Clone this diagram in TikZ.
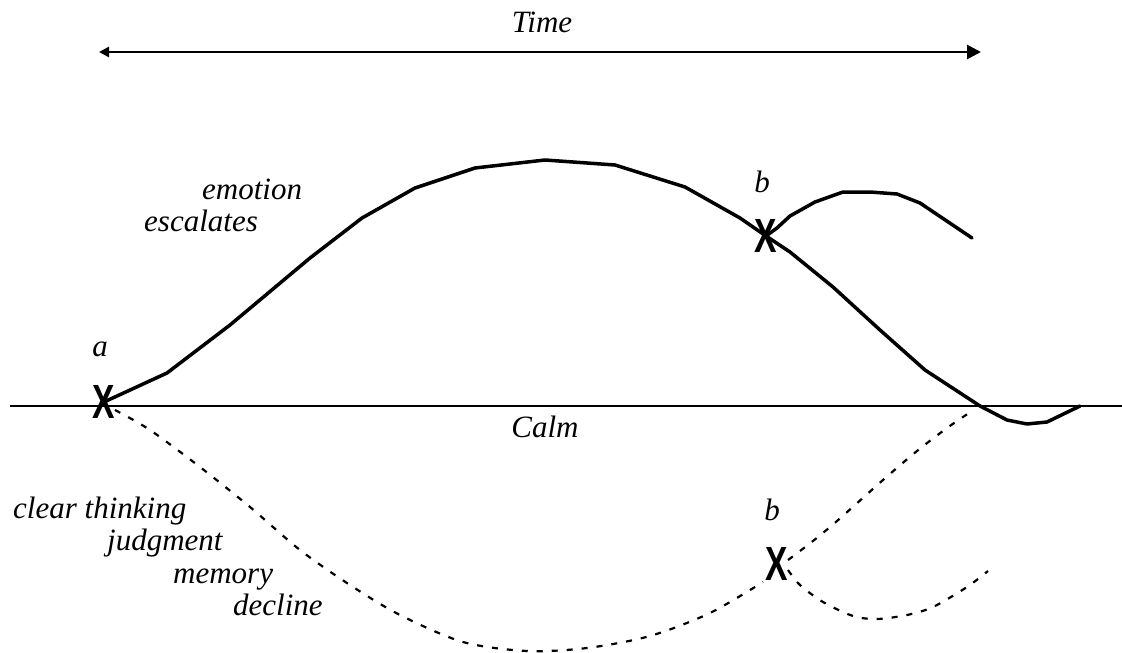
\documentclass[tikz,border=0pt]{standalone}
\usepackage{fontspec}
\setmainfont{Liberation Serif}
\newfontfamily\xfont{Liberation Sans}
\usetikzlibrary{arrows.meta}
\begin{document}
\begin{tikzpicture}[x=1pt,y=-1pt,
 lbl/.style={font=\fontsize{31}{31}\selectfont\itshape, inner sep=0pt, anchor=base},
 lblw/.style={lbl, anchor=base west},
 xmark/.style={font=\xfont\bfseries\fontsize{48}{48}\selectfont, inner sep=0pt},
 curve/.style={line width=3.5pt, line join=round, line cap=round},
 dcurve/.style={line width=2.2pt, dash pattern=on 6pt off 9pt},
 axis/.style={line width=2.6pt}
 ]
\useasboundingbox (0,0) rectangle (1122,653);

% time arrow
\coordinate (tl) at (99,52);
\coordinate (tr) at (981,52);
\draw[axis, {Triangle[length=10pt,width=10pt]}-{Triangle[length=14pt,width=14pt]}] (tl) -- (tr);
\node[lbl] (time) at (542,32) {Time};

% baseline
\coordinate (bl) at (10,406);
\coordinate (br) at (1122,406);
\draw[axis] (bl) -- (br);
\node[lbl] (calm) at (545,437) {Calm};

% X marks
\node[xmark] (xa) at (104,402) {\scalebox{0.7}[1]{X}};
\node[xmark] (xb) at (766,236) {\scalebox{0.7}[1]{X}};
\node[xmark] (xc) at (777,564) {\scalebox{0.7}[1]{X}};

\node[lbl] (la) at (100,356) {a};
\node[lbl] (lb1) at (762,192) {b};
\node[lbl] (lb2) at (772,520) {b};

\node[lblw] (emo1) at (202,199) {emotion};
\node[lblw] (emo2) at (144,231) {escalates};

\node[lblw] (ct) at (13,518) {clear thinking};
\node[lblw] (jd) at (107,550) {judgment};
\node[lblw] (mem) at (173,583) {memory};
\node[lblw] (dec) at (233,615) {decline};

% solid emotion curve
\draw[curve] (xa.center) -- (167,373) -- (230,325) -- (310,258) -- (362,218) -- (415,188)
  -- (475,168) -- (545,160) -- (615,165) -- (685,187) -- (740,218) -- (xb.center)
  -- (790,252) -- (833,287) -- (880,330) -- (925,370) -- (980,406) -- (1007,420)
  -- (1027,424) -- (1047,422) -- (1080,406);
% branch at b
\draw[curve] (xb.center) -- (777,228) -- (790,216) -- (815,202) -- (843,192) -- (870,192)
  -- (897,194) -- (920,203) -- (972,238);

% dashed thinking curve
\draw[dcurve] plot[smooth, tension=0.5] coordinates {(115,410) (150,430) (200,467) (250,507)
  (300,550) (350,585) (400,615) (463,642) (527,651) (587,648) (650,636) (710,613) (763,582)};
\draw[dcurve] plot[smooth, tension=0.5] coordinates {(788,560) (813,541) (837,521) (883,480)
  (917,451) (947,428) (972,411)};
\draw[dcurve] plot[smooth, tension=0.5] coordinates {(788,570) (800,585) (823,602)
  (853,616) (877,619) (907,615) (933,607) (967,587) (988,571)};
\end{tikzpicture}
\end{document}
